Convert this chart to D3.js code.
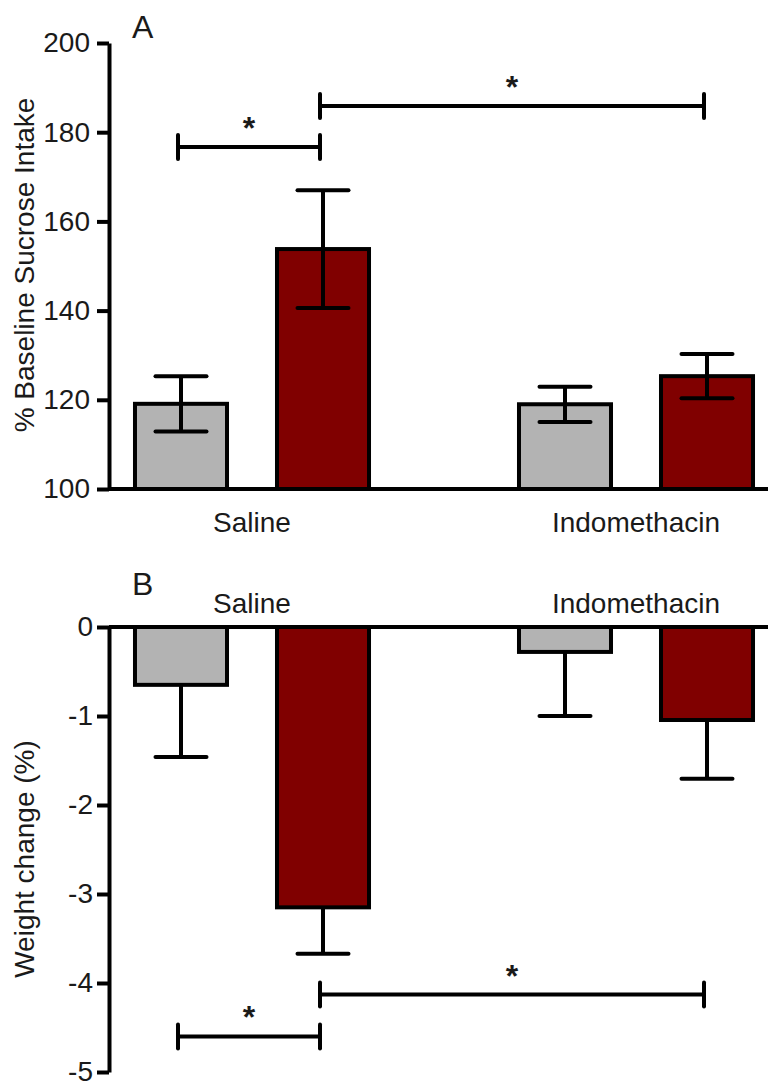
<!DOCTYPE html>
<html>
<head>
<meta charset="utf-8">
<script src="https://cdn.jsdelivr.net/npm/d3@7/dist/d3.min.js"></script>
<style>
  html, body { margin: 0; padding: 0; background: #fff; }
  svg { display: block; }
  text { font-family: "Liberation Sans", Arial, Helvetica, sans-serif; fill: #1a1a1a; }
</style>
</head>
<body>
<svg id="chart" width="768" height="1086"></svg>
<script>
// ---------- data ----------
const groups = ["Saline", "Indomethacin"];
const series = ["Control", "Treatment"];
const seriesColors = ["#b3b3b3", "#800000"];

// Panel A: % Baseline Sucrose Intake (mean, SEM)
const sucroseControl = [119.1, 119.0];
const sucroseControlSem = [6.2, 3.95];
const sucroseTreatment = [153.8, 125.3];
const sucroseTreatmentSem = [13.2, 4.95];
const sucroseTicks = [100, 120, 140, 160, 180, 200];

// Panel B: Weight change (%) (mean, SEM)
const weightControl = [-0.65, -0.28];
const weightControlSem = [0.81, 0.72];
const weightTreatment = [-3.15, -1.045];
const weightTreatmentSem = [0.52, 0.66];
const weightTicks = [0, -1, -2, -3, -4, -5];

// significance brackets
const sigA = [
  { from: ["Saline", "Control"], to: ["Saline", "Treatment"], y: 176.7, label: "*" },
  { from: ["Saline", "Treatment"], to: ["Indomethacin", "Treatment"], y: 185.9, label: "*" }
];
const sigB = [
  { from: ["Saline", "Control"], to: ["Saline", "Treatment"], y: -4.6, label: "*" },
  { from: ["Saline", "Treatment"], to: ["Indomethacin", "Treatment"], y: -4.13, label: "*" }
];

// ---------- layout ----------
const svg = d3.select("#chart");
const axisX = 109;
const rightEdge = 768;
const SW = 4;
const FS = 28;

const xGroup = d3.scaleBand().domain(groups).range([60, 828]).padding(0);
const xSeries = d3.scaleBand().domain(series).range([25, 359]).paddingInner(0.352).paddingOuter(0.352);
const cx = (g, s) => xGroup(g) + xSeries(s) + xSeries.bandwidth() / 2;

function toRows(ctrl, ctrlSem, trt, trtSem) {
  const rows = [];
  groups.forEach((g, i) => {
    rows.push({ g, s: "Control", v: ctrl[i], e: ctrlSem[i], c: seriesColors[0] });
    rows.push({ g, s: "Treatment", v: trt[i], e: trtSem[i], c: seriesColors[1] });
  });
  return rows;
}

function drawPanel(opts) {
  const { y, rows, ticks, base, twoSided, tickPad, labelY, yLabel, yLabelCenter, letter, letterY, sig } = opts;
  const gp = svg.append("g");

  // bars
  gp.selectAll("rect.bar").data(rows).enter().append("rect")
    .attr("class", "bar")
    .attr("x", d => xGroup(d.g) + xSeries(d.s))
    .attr("width", xSeries.bandwidth())
    .attr("y", d => Math.min(y(d.v), y(base)))
    .attr("height", d => Math.abs(y(d.v) - y(base)))
    .attr("fill", d => d.c)
    .attr("stroke", "#000")
    .attr("stroke-width", SW);

  // error bars
  const capW = 51;
  rows.forEach(d => {
    const x = cx(d.g, d.s);
    let lo, hi;
    if (twoSided) { lo = d.v - d.e; hi = d.v + d.e; }
    else { lo = d.v - d.e; hi = d.v; }
    gp.append("line").attr("x1", x).attr("x2", x).attr("y1", y(lo)).attr("y2", y(hi))
      .attr("stroke", "#000").attr("stroke-width", SW);
    const caps = twoSided ? [lo, hi] : [lo];
    caps.forEach(c => {
      gp.append("line").attr("x1", x - capW / 2).attr("x2", x + capW / 2)
        .attr("y1", y(c)).attr("y2", y(c))
        .attr("stroke", "#000").attr("stroke-width", SW).attr("stroke-linecap", "round");
    });
  });

  // x axis line
  gp.append("line").attr("x1", axisX).attr("x2", rightEdge)
    .attr("y1", y(base)).attr("y2", y(base))
    .attr("stroke", "#000").attr("stroke-width", SW);

  // y axis
  const ax = gp.append("g").attr("transform", `translate(${axisX},0)`)
    .call(d3.axisLeft(y).tickValues(ticks).tickSize(12).tickSizeOuter(0).tickPadding(tickPad)
      .tickFormat(d => String(d).replace("\u2212", "-")));
  ax.select(".domain").attr("stroke", "#000").attr("stroke-width", SW);
  ax.selectAll(".tick line").attr("stroke", "#000").attr("stroke-width", SW);
  ax.selectAll(".tick text").attr("font-size", FS).style("font-family", '"Liberation Sans", Arial, sans-serif').attr("fill", "#1a1a1a");

  // category labels
  gp.selectAll("text.cat").data(groups).enter().append("text")
    .attr("class", "cat")
    .attr("x", d => xGroup(d) + xGroup.bandwidth() / 2)
    .attr("y", labelY)
    .attr("text-anchor", "middle")
    .attr("font-size", FS)
    .text(d => d);

  // y label
  gp.append("text")
    .attr("transform", `translate(34,${yLabelCenter}) rotate(-90)`)
    .attr("text-anchor", "middle")
    .attr("font-size", FS)
    .text(yLabel);

  // panel letter
  gp.append("text").attr("x", 132).attr("y", letterY).attr("font-size", 32).text(letter);

  // significance brackets
  sig.forEach(b => {
    const x1 = cx(b.from[0], b.from[1]) - 3;
    const x2 = cx(b.to[0], b.to[1]) - 3;
    const yy = y(b.y);
    gp.append("line").attr("x1", x1).attr("x2", x2).attr("y1", yy).attr("y2", yy)
      .attr("stroke", "#000").attr("stroke-width", SW);
    [x1, x2].forEach(xx => {
      gp.append("line").attr("x1", xx).attr("x2", xx).attr("y1", yy - 12).attr("y2", yy + 12)
        .attr("stroke", "#000").attr("stroke-width", SW).attr("stroke-linecap", "round");
    });
    gp.append("text").attr("x", (x1 + x2) / 2).attr("y", yy - 8)
      .attr("text-anchor", "middle").attr("font-size", 32).attr("font-weight", "bold").attr("fill", "#111")
      .text(b.label);
  });
}

const yA = d3.scaleLinear().domain([100, 200]).range([489, 43]);
drawPanel({
  y: yA,
  rows: toRows(sucroseControl, sucroseControlSem, sucroseTreatment, sucroseTreatmentSem),
  ticks: sucroseTicks,
  base: 100,
  twoSided: true,
  tickPad: 7,
  labelY: 532,
  yLabel: "% Baseline Sucrose Intake",
  yLabelCenter: 265,
  letter: "A",
  letterY: 38,
  sig: sigA
});

const yB = d3.scaleLinear().domain([-5, 0]).range([1072, 627]);
drawPanel({
  y: yB,
  rows: toRows(weightControl, weightControlSem, weightTreatment, weightTreatmentSem),
  ticks: weightTicks,
  base: 0,
  twoSided: false,
  tickPad: 4,
  labelY: 613,
  yLabel: "Weight change (%)",
  yLabelCenter: 859,
  letter: "B",
  letterY: 595,
  sig: sigB
});
</script>
</body>
</html>
